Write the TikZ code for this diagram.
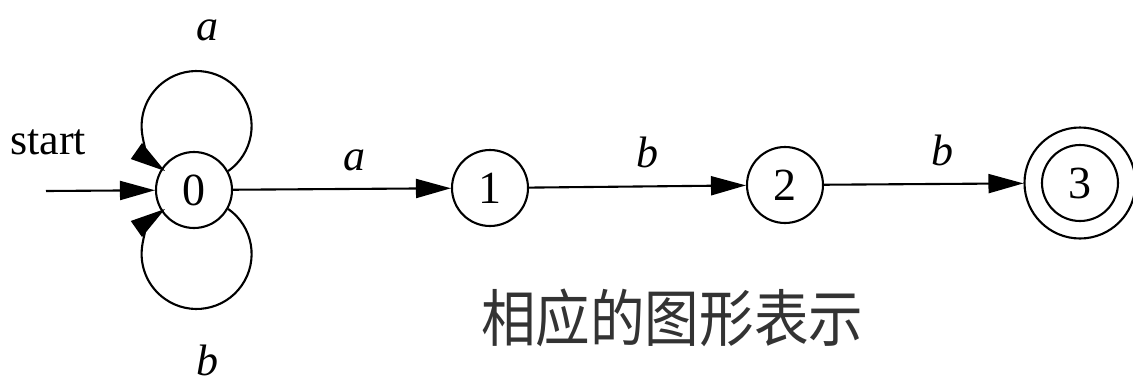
\documentclass[tikz,border=0pt]{standalone}
\usepackage{fontspec}
\usepackage{graphicx}
\setmainfont{Liberation Serif}
\newfontfamily\cjk{Noto Sans CJK SC}
\usetikzlibrary{arrows.meta}
\tikzset{
  state/.style={circle, draw, line width=2.1pt, minimum size=76pt, inner sep=0pt,
    font=\fontsize{46}{50}\selectfont},
  outer/.style={circle, draw, line width=2.1pt, minimum size=111pt, inner sep=0pt},
  conn/.style={line width=2.1pt, -{Triangle[length=35pt, width=19pt]}},
  lab/.style={anchor=base, inner sep=0pt, font=\fontsize{44}{50}\selectfont\itshape},
}
\begin{document}
\begin{tikzpicture}[x=1pt,y=1pt]
\useasboundingbox (0,0) rectangle (1133,-383);
\node[state] (n0) at (194,-190) {0};
\node[state] (n1) at (490,-188) {1};
\node[state] (n2) at (785,-185) {2};
\node[state] (n3) at (1080,-183) {3};
\node[outer] (n3o) at (n3) {};
\coordinate (s) at (46,-191);
\node[anchor=base, inner sep=0pt, font=\fontsize{44}{50}\selectfont] (st) at (48,-154) {start};
\draw[conn] (s) -- (n0);
\draw[conn] (n0.29) arc[start angle=-55, end angle=235, radius=55];
\draw[conn] (n0.-29) arc[start angle=55, end angle=-235, radius=55];
\draw[conn] (n0) -- (n1);
\draw[conn] (n1) -- (n2);
\draw[conn] (n2) -- (n3o);
\node[lab] (la) at (207,-40) {a};
\node[lab] (lb) at (207,-375) {b};
\node[lab] (e1) at (354,-170) {a};
\node[lab] (e2) at (647,-167) {b};
\node[lab] (e3) at (942,-165) {b};
\node[anchor=base west, inner sep=0pt, text=black!80, font=\cjk\fontsize{62}{70}\selectfont] (cn) at (481,-341) {\scalebox{0.88}[1]{相应的图形表示}};
\end{tikzpicture}
\end{document}
